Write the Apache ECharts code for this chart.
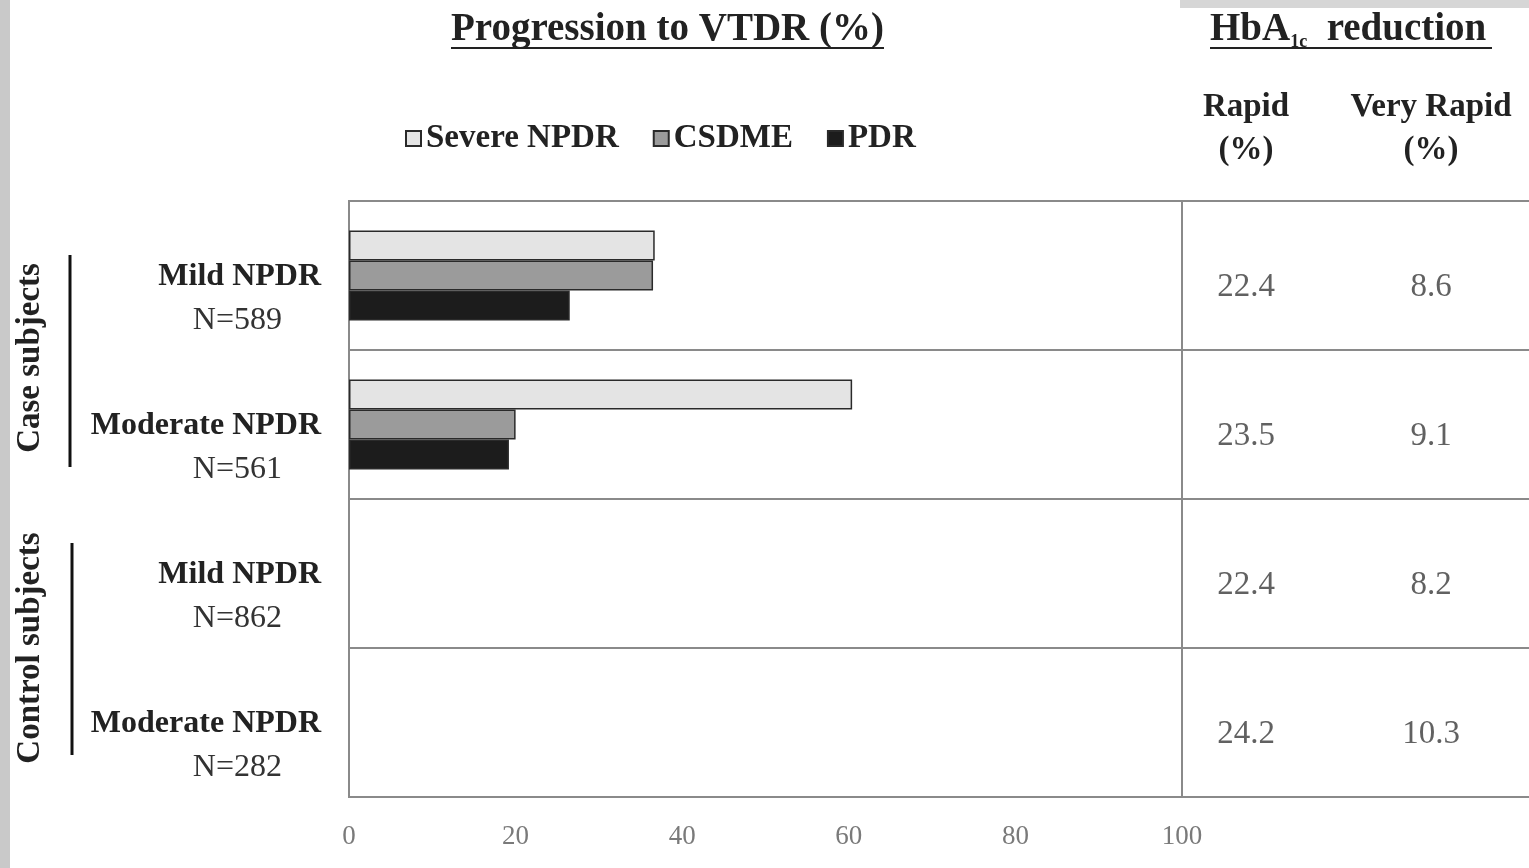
<!DOCTYPE html>
<html><head><meta charset="utf-8">
<script src="https://cdn.jsdelivr.net/npm/echarts@6/dist/echarts.min.js"></script>
<style>html,body{margin:0;padding:0;background:#fff}#c{width:1529px;height:868px}</style>
</head><body><div id="c"></div>
<script>
const rowNames = ['Mild NPDR', 'Moderate NPDR', 'Mild NPDR', 'Moderate NPDR'];
const rowN = ['N=589', 'N=561', 'N=862', 'N=282'];
const seriesNames = ['Severe NPDR', 'CSDME', 'PDR'];
const severeNPDR = [36.7, 60.4, null, null];
const csdme = [36.5, 20.0, null, null];
const pdr = [26.5, 19.2, null, null];
const tableCols = ['Rapid', 'Very Rapid'];
const rapid = [22.4, 23.5, 22.4, 24.2];
const veryRapid = [8.6, 9.1, 8.2, 10.3];
const xTicks = [0, 20, 40, 60, 80, 100];

const categories = rowNames.map((n, i) => n + '|' + rowN[i]);
const serif = '"Liberation Serif", "DejaVu Serif", serif';
const chart = echarts.init(document.getElementById('c'));

const barColors = ['#e4e4e4', '#9b9b9b', '#1c1c1c'];
const barData = [severeNPDR, csdme, pdr];

const series = seriesNames.map((name, k) => ({
  name, type: 'bar', xAxisIndex: 0, yAxisIndex: 0,
  data: barData[k], barWidth: 30, barGap: '0%',
  itemStyle: { color: barColors[k], borderColor: '#2a2a2a', borderWidth: 1.5 }
}));

const tableSeries = [rapid, veryRapid].map((arr, c) => ({
  name: tableCols[c], type: 'scatter', xAxisIndex: 1, yAxisIndex: 1,
  symbolSize: 1, itemStyle: { color: 'rgba(0,0,0,0)' },
  data: arr.map((v, i) => [c, i, v]),
  label: {
    show: true, position: 'inside', offset: [c === 0 ? -26 : -21, 12],
    formatter: p => p.value[2].toFixed(1),
    fontFamily: serif, fontSize: 33, color: '#3a3a3a'
  },
  silent: true
}));

chart.setOption({
  backgroundColor: '#ffffff',
  animation: false,
  legend: {
    data: seriesNames, left: 400, top: 117, itemWidth: 15, itemHeight: 15, itemGap: 34,
    icon: 'rect',
    textStyle: { fontFamily: serif, fontSize: 33, fontWeight: 'bold', color: '#222' }
  },
  grid: [
    { left: 349, right: 347, top: 201, bottom: 71, show: true, borderColor: '#8a8a8a', borderWidth: 2, containLabel: false, outerBoundsMode: 'none' },
    { left: 1182, width: 360, top: 201, bottom: 71, show: true, borderColor: '#8a8a8a', borderWidth: 2, containLabel: false, outerBoundsMode: 'none' }
  ],
  xAxis: [
    { type: 'value', gridIndex: 0, min: 0, max: 100, interval: 20,
      axisLine: { show: true, lineStyle: { color: '#8a8a8a', width: 2 } },
      axisTick: { show: false }, splitLine: { show: false },
      axisLabel: { fontFamily: serif, fontSize: 27, color: '#7a7a7a', margin: 26,
        formatter: v => xTicks.includes(v) ? String(v) : '' } },
    { type: 'category', gridIndex: 1, data: tableCols, position: 'top',
      axisLine: { show: false }, axisTick: { show: false }, splitLine: { show: false },
      axisLabel: { margin: 29, interval: 0, lineHeight: 43,
        formatter: (v, i) => i === 0 ? '{r|' + v + '}\n{r|(%)}' : '{v|' + v + '}\n{v|(%)}',
        rich: {
          r: { fontFamily: serif, fontSize: 33, fontWeight: 'bold', color: '#222', lineHeight: 43, padding: [0, 52, 0, 0] },
          v: { fontFamily: serif, fontSize: 33, fontWeight: 'bold', color: '#222', lineHeight: 43, padding: [0, 42, 0, 0] }
        } } }
  ],
  yAxis: [
    { type: 'category', gridIndex: 0, data: categories, inverse: true,
      axisLine: { show: true, lineStyle: { color: '#8a8a8a', width: 2 } },
      axisTick: { show: false },
      splitLine: { show: true, interval: 0, lineStyle: { color: '#8a8a8a', width: 2 } },
      axisLabel: { margin: 28, align: 'right', interval: 0, lineHeight: 44, padding: [46, 0, 0, 0],
        formatter: v => { const [a, b] = v.split('|'); return '{a|' + a + '}\n{b|' + b + '}'; },
        rich: {
          a: { fontFamily: serif, fontSize: 32, fontWeight: 'bold', color: '#222', lineHeight: 44 },
          b: { fontFamily: serif, fontSize: 32, color: '#333', lineHeight: 44, padding: [0, 39, 0, 0] }
        } } },
    { type: 'category', gridIndex: 1, data: categories, inverse: true,
      axisLine: { show: false }, axisTick: { show: false }, axisLabel: { show: false },
      splitLine: { show: true, interval: 0, lineStyle: { color: '#8a8a8a', width: 2 } } }
  ],
  graphic: [
    { type: 'rect', left: 0, top: 0, shape: { width: 10, height: 868 }, style: { fill: '#c9c9c9' }, silent: true },
    { type: 'rect', left: 1180, top: 0, shape: { width: 349, height: 8 }, style: { fill: '#d6d6d6' }, silent: true },
    { type: 'text', left: 451, top: 10, style: { text: 'Progression to VTDR (%)', font: 'bold 39px ' + serif, fill: '#222' } },
    { type: 'line', shape: { x1: 451, y1: 48, x2: 884, y2: 48 }, style: { stroke: '#222', lineWidth: 2 } },
    { type: 'text', left: 1210, top: 10, style: {
        text: '{b|HbA}{s|1c}{b|  reduction}',
        rich: { b: { font: 'bold 39px ' + serif, fill: '#222' },
                s: { font: 'bold 18px ' + serif, fill: '#222', padding: [26, 0, 0, 0] } } } },
    { type: 'line', shape: { x1: 1210, y1: 48, x2: 1492, y2: 48 }, style: { stroke: '#222', lineWidth: 2 } },
    { type: 'text', x: 30, y: 358, rotation: Math.PI / 2,
      style: { text: 'Case subjects', font: 'bold 33px ' + serif, fill: '#222', align: 'center', verticalAlign: 'middle' } },
    { type: 'text', x: 30, y: 648, rotation: Math.PI / 2,
      style: { text: 'Control subjects', font: 'bold 33px ' + serif, fill: '#222', align: 'center', verticalAlign: 'middle' } },
    { type: 'line', shape: { x1: 70, y1: 255, x2: 70, y2: 467 }, style: { stroke: '#111', lineWidth: 3 } },
    { type: 'line', shape: { x1: 72, y1: 543, x2: 72, y2: 755 }, style: { stroke: '#111', lineWidth: 3 } }
  ],
  series: series.concat(tableSeries)
});
</script></body></html>
